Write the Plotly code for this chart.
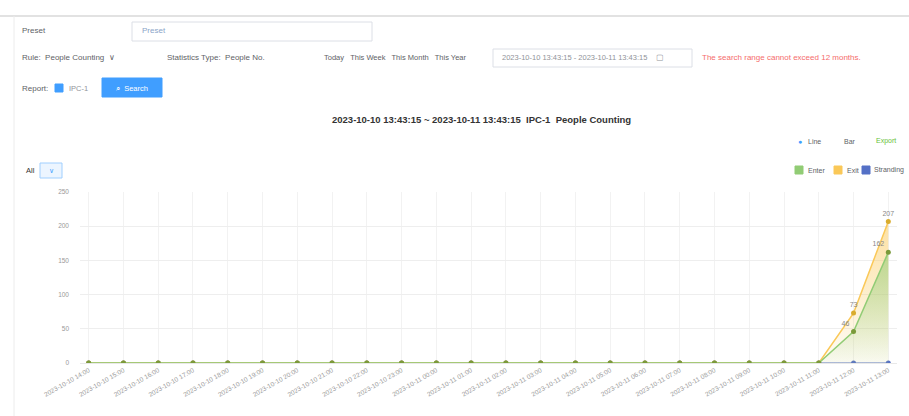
import plotly.graph_objects as go

W, H = 909, 416

# ---------------- data ----------------
hours = ["2023-10-10 %02d:00" % h for h in range(14, 24)] + ["2023-10-11 %02d:00" % h for h in range(0, 14)]
enter_vals = [0] * 22 + [46, 162]
exit_vals = [0] * 22 + [73, 207]
strand_vals = [0] * 24
y_ticks = [0, 50, 100, 150, 200, 250]
series_names = ["Enter", "Exit", "Stranding Count"]

title_text = "2023-10-10 13:43:15 ~ 2023-10-11 13:43:15  IPC-1  People Counting"

C_GREEN = "#91cc75"
C_YELLOW = "#fac858"
C_BLUE = "#5470c6"
FONT = "Liberation Sans"


def px(x):
    return x / W


def py(y):
    return 1 - y / H


fig = go.Figure()

fig.add_trace(go.Scatter(
    x=hours, y=strand_vals, name=series_names[2], mode="lines+markers",
    line=dict(color=C_BLUE, width=1.2), marker=dict(color=C_BLUE, size=5),
    showlegend=False,
))
fig.add_trace(go.Scatter(
    x=hours, y=exit_vals, name=series_names[1], mode="lines+markers+text",
    line=dict(color=C_YELLOW, width=1.5), marker=dict(color="#d9ac2e", size=5),
    fill="tozeroy",
    fillgradient=dict(type="vertical", colorscale=[[0, "rgba(250,200,88,0.05)"], [1, "rgba(250,200,88,0.55)"]]),
    text=[str(v) if v > 0 else "" for v in exit_vals], textposition="top center",
    textfont=dict(size=7, color="#888", family=FONT),
    showlegend=False,
))
fig.add_trace(go.Scatter(
    x=hours, y=enter_vals, name=series_names[0], mode="lines+markers+text",
    line=dict(color=C_GREEN, width=1.5), marker=dict(color="#7a9a3a", size=5),
    fill="tozeroy",
    fillgradient=dict(type="vertical", colorscale=[[0, "rgba(145,204,117,0.05)"], [1, "rgba(145,204,117,0.6)"]]),
    text=[str(v) if v > 0 else "" for v in enter_vals], textposition="top left",
    textfont=dict(size=7, color="#888", family=FONT),
    showlegend=False,
))

shapes = []
ann = []


def rect(x0, y0, x1, y1, line="#dcdfe6", fill="rgba(0,0,0,0)", lw=1):
    shapes.append(dict(type="rect", xref="paper", yref="paper", x0=px(x0), x1=px(x1), y0=py(y1), y1=py(y0),
                       line=dict(color=line, width=lw), fillcolor=fill, layer="above"))


def txt(x, y, s, size=8, color="#606266", anchor="left", bold=False):
    if bold:
        s = "<b>" + s + "</b>"
    ann.append(dict(xref="paper", yref="paper", x=px(x), y=py(y), text=s, showarrow=False,
                    xanchor=anchor, yanchor="middle", font=dict(size=size, color=color, family=FONT)))


# page frame
shapes.append(dict(type="line", xref="paper", yref="paper", x0=0, x1=1, y0=py(16), y1=py(16),
                   line=dict(color="#d8d8d8", width=1.5)))
shapes.append(dict(type="line", xref="paper", yref="paper", x0=px(14), x1=px(14), y0=py(16), y1=0,
                   line=dict(color="#ececec", width=1)))

# row 1
txt(20, 31, "Preset")
rect(132, 22, 372, 41)
txt(140, 31, "Preset", color="#8aa4c8")
# row 2
txt(20, 58, "Rule:  People Counting  ∨", size=8)
txt(165, 58, "Statistics Type:  People No.", size=8)
txt(322, 58, "Today   This Week   This Month   This Year", size=7.5)
rect(493, 49, 692, 67)
txt(500, 58, "2023-10-10 13:43:15 - 2023-10-11 13:43:15    ▢", size=7.5, color="#909399")
txt(700, 58, "The search range cannot exceed 12 months.", color="#f56c6c", size=8)
# row 3
txt(20, 88, "Report:", size=8)
rect(55, 84, 63, 92, line="#409eff", fill="#409eff")
txt(67, 88, "IPC-1", color="#909399", size=7.5)
rect(102, 78, 162, 97, line="#409eff", fill="#409eff")
txt(132, 88, "⌕  Search", color="white", anchor="center", size=7.5)

# chart title
txt(481, 120, title_text, size=9.5, color="#333", anchor="center", bold=True)

# top right controls
ann.append(dict(xref="paper", yref="paper", x=px(800), y=py(141), text="●", showarrow=False,
                font=dict(size=7, color="#409eff"), xanchor="center", yanchor="middle"))
txt(806, 141, "Line", size=7)
txt(842, 141, "Bar", size=7)
txt(874, 141, "Export", size=7, color="#67c23a")

# legend
rect(795, 166, 803, 174, line=C_GREEN, fill=C_GREEN)
txt(806, 170, "Enter", size=7)
rect(834, 166, 842, 174, line=C_YELLOW, fill=C_YELLOW)
txt(845, 170, "Exit", size=7)
rect(862, 166, 870, 174, line=C_BLUE, fill=C_BLUE)
txt(872, 170, "Stranding", size=7)

# All dropdown
txt(24, 170, "All", size=7.5, color="#333")
rect(40, 163, 62, 178, line="#a0cfff", fill="#ecf5ff")
txt(51, 170, "∨", size=7, color="#409eff", anchor="center")

fig.update_layout(
    width=W, height=H, margin=dict(l=0, r=0, t=0, b=0, pad=0),
    paper_bgcolor="white", plot_bgcolor="white",
    shapes=shapes, annotations=ann, showlegend=False,
    xaxis=dict(domain=[px(80), px(897)], type="category", categoryorder="array", categoryarray=hours,
               range=[-0.25, 23.25], showgrid=True, gridcolor="#f2f2f2", zeroline=False, automargin=False,
               tickangle=-30, tickfont=dict(size=6.5, color="#999", family=FONT),
               showline=True, linecolor="#e8e8e8", ticks=""),
    yaxis=dict(domain=[py(363), py(192)], range=[0, 250], tickvals=y_ticks, automargin=False,
               showgrid=True, gridcolor="#eeeeee", zeroline=False, ticklabelstandoff=10,
               tickfont=dict(size=6.5, color="#999", family=FONT), ticks="", showline=False),
)

fig.write_html("out.html", config={"displayModeBar": False},
               post_script="document.body.style.margin='0';document.body.style.padding='0';")
